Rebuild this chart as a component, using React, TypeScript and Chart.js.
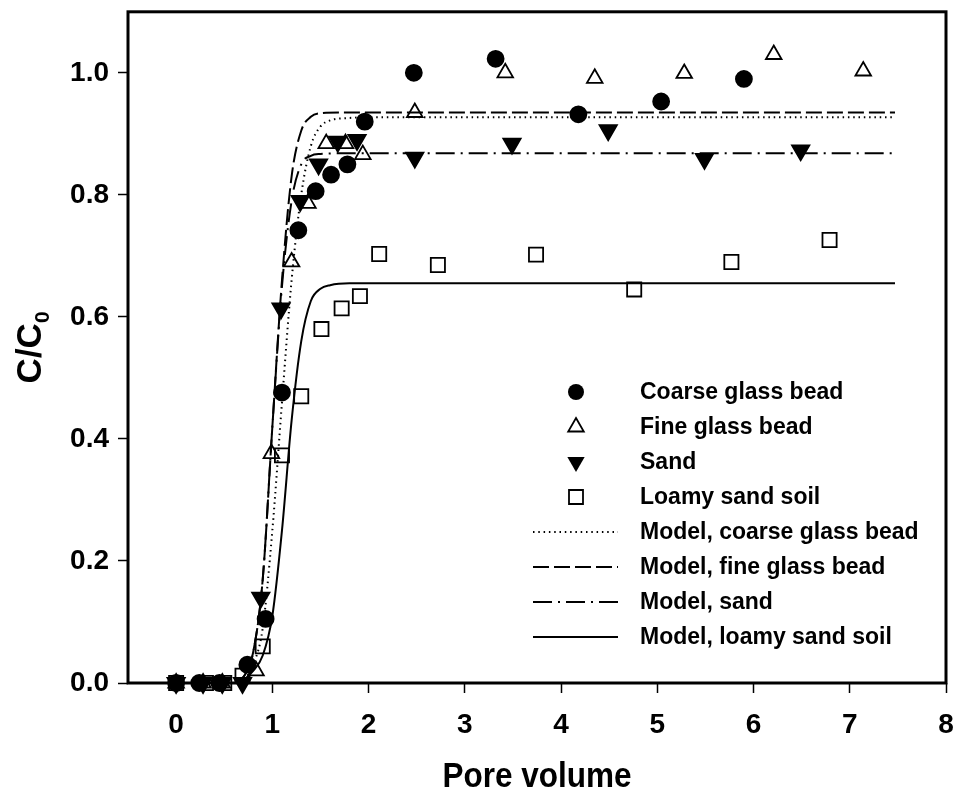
import React, { useEffect, useRef } from 'react';
import { Chart, registerables } from 'chart.js';

Chart.register(...registerables);

// Axis ticks
const X_TICKS = [0, 1, 2, 3, 4, 5, 6, 7, 8];
const Y_TICKS = [0, 0.2, 0.4, 0.6, 0.8, 1.0];

// Measured breakthrough data (pore volume, C/C0)
const COARSE_X = [0, 0.24, 0.45, 0.74, 0.93, 1.1, 1.27, 1.45, 1.61, 1.78, 1.96, 2.47, 3.32, 4.18, 5.04, 5.9];
const COARSE_Y = [0, 0, 0, 0.03, 0.105, 0.476, 0.742, 0.806, 0.833, 0.85, 0.92, 1.0, 1.023, 0.932, 0.953, 0.99];

const FINE_X = [0, 0.28, 0.48, 0.83, 0.99, 1.2, 1.37, 1.56, 1.76, 1.94, 2.48, 3.42, 4.35, 5.28, 6.21, 7.14];
const FINE_Y = [0, 0, 0, 0.02, 0.376, 0.69, 0.786, 0.884, 0.884, 0.866, 0.935, 1.0, 0.991, 0.999, 1.03, 1.003];

const SAND_X = [0, 0.28, 0.48, 0.69, 0.88, 1.09, 1.29, 1.48, 1.68, 1.88, 2.48, 3.49, 4.49, 5.49, 6.49];
const SAND_Y = [0, 0, 0, 0, 0.14, 0.614, 0.79, 0.85, 0.887, 0.89, 0.861, 0.884, 0.906, 0.859, 0.873];

const LOAMY_X = [0, 0.31, 0.5, 0.69, 0.9, 1.1, 1.3, 1.51, 1.72, 1.91, 2.11, 2.72, 3.74, 4.76, 5.77, 6.79];
const LOAMY_Y = [0, 0, 0, 0.012, 0.06, 0.373, 0.47, 0.58, 0.614, 0.634, 0.703, 0.685, 0.702, 0.645, 0.69, 0.726];

// Fitted model curves
const M_COARSE_X = [0, 0.6, 0.7, 0.8, 0.9, 1.0, 1.1, 1.2, 1.3, 1.4, 1.5, 1.6, 1.8, 2.0, 7.47];
const M_COARSE_Y = [0, 0, 0.005, 0.03, 0.09, 0.25, 0.46, 0.66, 0.8, 0.88, 0.912, 0.922, 0.926, 0.927, 0.927];

const M_FINE_X = [0, 0.6, 0.7, 0.8, 0.9, 1.0, 1.1, 1.2, 1.3, 1.4, 1.5, 1.7, 2.0, 7.47];
const M_FINE_Y = [0, 0, 0.01, 0.05, 0.17, 0.42, 0.66, 0.83, 0.905, 0.928, 0.934, 0.935, 0.935, 0.935];

const M_SAND_X = [0, 0.6, 0.7, 0.8, 0.9, 1.0, 1.1, 1.2, 1.3, 1.4, 1.5, 1.7, 2.0, 7.47];
const M_SAND_Y = [0, 0, 0.01, 0.05, 0.17, 0.42, 0.65, 0.79, 0.85, 0.864, 0.867, 0.868, 0.868, 0.868];

const M_LOAMY_X = [0, 0.6, 0.7, 0.8, 0.9, 1.0, 1.1, 1.2, 1.3, 1.4, 1.5, 1.6, 1.8, 2.0, 7.47];
const M_LOAMY_Y = [0, 0, 0.005, 0.02, 0.045, 0.11, 0.25, 0.43, 0.56, 0.626, 0.646, 0.652, 0.655, 0.655, 0.655];

const LEGEND_LABELS = [
  'Coarse glass bead',
  'Fine glass bead',
  'Sand',
  'Loamy sand soil',
  'Model, coarse glass bead',
  'Model, fine glass bead',
  'Model, sand',
  'Model, loamy sand soil',
];

const FONT = 'Arial, "Liberation Sans", Helvetica, sans-serif';

const pts = (xs: number[], ys: number[]) => xs.map((x, i) => ({ x, y: ys[i] }));

type Marker = 'circle' | 'triUp' | 'triDown' | 'square';

function drawMarker(ctx: CanvasRenderingContext2D, kind: Marker, x: number, y: number) {
  ctx.save();
  ctx.strokeStyle = '#000';
  ctx.fillStyle = '#000';
  ctx.lineWidth = 1.8;
  ctx.beginPath();
  if (kind === 'circle') {
    ctx.arc(x, y, 8, 0, Math.PI * 2);
    ctx.fill();
  } else if (kind === 'triUp') {
    const r = 9;
    ctx.moveTo(x, y - r);
    ctx.lineTo(x + r * 0.866, y + r / 2);
    ctx.lineTo(x - r * 0.866, y + r / 2);
    ctx.closePath();
    ctx.stroke();
  } else if (kind === 'triDown') {
    const r = 10;
    ctx.moveTo(x, y + r);
    ctx.lineTo(x + r * 0.866, y - r / 2);
    ctx.lineTo(x - r * 0.866, y - r / 2);
    ctx.closePath();
    ctx.fill();
  } else {
    ctx.rect(x - 7, y - 7, 14, 14);
    ctx.stroke();
  }
  ctx.restore();
}

const framePlugin = {
  id: 'frame',
  beforeDatasetsDraw(chart: any) {
    const { ctx, chartArea: a } = chart;
    ctx.save();
    ctx.lineWidth = 3;
    ctx.strokeStyle = '#000';
    ctx.strokeRect(a.left, a.top, a.right - a.left, a.bottom - a.top);
    ctx.restore();
  },
};

const decorPlugin = {
  id: 'decor',
  afterDraw(chart: any) {
    const { ctx, chartArea: a } = chart;
    ctx.save();
    ctx.fillStyle = '#000';

    // x axis title
    ctx.save();
    ctx.font = `bold 35px ${FONT}`;
    ctx.textAlign = 'center';
    ctx.textBaseline = 'alphabetic';
    ctx.translate((a.left + a.right) / 2, 787);
    ctx.scale(0.9, 1);
    ctx.fillText('Pore volume', 0, 0);
    ctx.restore();

    // y axis title with subscript
    ctx.save();
    ctx.translate(41, (a.top + a.bottom) / 2);
    ctx.rotate(-Math.PI / 2);
    ctx.font = `bold 35px ${FONT}`;
    const main = 'C/C';
    const wMain = ctx.measureText(main).width;
    ctx.font = `bold 21px ${FONT}`;
    const wSub = ctx.measureText('0').width;
    const start = -(wMain + wSub) / 2;
    ctx.textAlign = 'left';
    ctx.textBaseline = 'alphabetic';
    ctx.font = `bold 35px ${FONT}`;
    ctx.fillText(main, start, 0);
    ctx.font = `bold 21px ${FONT}`;
    ctx.fillText('0', start + wMain, 8);
    ctx.restore();

    // legend
    const symX = 576;
    const textX = 640;
    const row0 = 392;
    const step = 35;
    const markers: Marker[] = ['circle', 'triUp', 'triDown', 'square'];
    const dashes = [[1.5, 3.8], [16, 5], [19, 6, 2, 6], []];
    ctx.font = `bold 23px ${FONT}`;
    ctx.textAlign = 'left';
    ctx.textBaseline = 'middle';
    LEGEND_LABELS.forEach((label, i) => {
      const y = row0 + i * step;
      if (i < 4) {
        drawMarker(ctx, markers[i], symX, y);
      } else {
        ctx.save();
        ctx.strokeStyle = '#000';
        ctx.lineWidth = 2;
        ctx.setLineDash(dashes[i - 4]);
        ctx.beginPath();
        ctx.moveTo(533, y);
        ctx.lineTo(618, y);
        ctx.stroke();
        ctx.restore();
      }
      ctx.fillStyle = '#000';
      ctx.fillText(label, textX, y + 1);
    });
    ctx.restore();
  },
};

export default function App() {
  const ref = useRef<HTMLCanvasElement | null>(null);

  useEffect(() => {
    if (!ref.current) return;
    const markerBase = { showLine: false, clip: false as any, borderColor: '#000', borderWidth: 1.8 };
    const modelBase = {
      showLine: true,
      pointRadius: 0,
      pointHoverRadius: 0,
      borderColor: '#000',
      borderWidth: 2,
      fill: false,
      cubicInterpolationMode: 'monotone' as const,
      clip: false as any,
    };
    const chart = new Chart(ref.current, {
      type: 'scatter',
      data: {
        datasets: [
          { ...markerBase, label: LEGEND_LABELS[0], data: pts(COARSE_X, COARSE_Y), pointStyle: 'circle', pointRadius: 8, backgroundColor: '#000' },
          { ...markerBase, label: LEGEND_LABELS[1], data: pts(FINE_X, FINE_Y), pointStyle: 'triangle', pointRadius: 9, backgroundColor: 'rgba(0,0,0,0)' },
          { ...markerBase, label: LEGEND_LABELS[2], data: pts(SAND_X, SAND_Y), pointStyle: 'triangle', rotation: 180, pointRadius: 10, backgroundColor: '#000' },
          { ...markerBase, label: LEGEND_LABELS[3], data: pts(LOAMY_X, LOAMY_Y), pointStyle: 'rect', pointRadius: 10, backgroundColor: 'rgba(0,0,0,0)' },
          { ...modelBase, label: LEGEND_LABELS[4], data: pts(M_COARSE_X, M_COARSE_Y), borderDash: [1.5, 3.8] },
          { ...modelBase, label: LEGEND_LABELS[5], data: pts(M_FINE_X, M_FINE_Y), borderDash: [16, 5] },
          { ...modelBase, label: LEGEND_LABELS[6], data: pts(M_SAND_X, M_SAND_Y), borderDash: [19, 6, 2, 6] },
          { ...modelBase, label: LEGEND_LABELS[7], data: pts(M_LOAMY_X, M_LOAMY_Y) },
        ],
      },
      options: {
        animation: false,
        responsive: true,
        maintainAspectRatio: false,
        devicePixelRatio: 1,
        layout: { padding: { top: 10, right: 15, left: 0, bottom: 0 } },
        plugins: {
          legend: { display: false },
          tooltip: { enabled: false },
          title: { display: false },
        },
        scales: {
          x: {
            type: 'linear',
            min: -0.5,
            max: 8,
            border: { display: false },
            grid: {
              drawOnChartArea: false,
              drawTicks: true,
              tickLength: 10,
              tickWidth: 1.5,
              tickColor: '#000',
              color: '#000',
            },
            ticks: {
              color: '#000',
              font: { family: FONT, size: 28, weight: 'bold' },
              padding: 15,
              maxRotation: 0,
              callback: (v: any) => String(v),
            },
            afterBuildTicks: (scale: any) => {
              scale.ticks = X_TICKS.map((v) => ({ value: v }));
            },
            afterFit: (scale: any) => {
              scale.height = 111;
              scale.paddingLeft = 0;
              scale.paddingRight = 0;
            },
          },
          y: {
            type: 'linear',
            min: 0,
            max: 1.1,
            border: { display: false },
            grid: {
              drawOnChartArea: false,
              drawTicks: true,
              tickLength: 10,
              tickWidth: 1.5,
              tickColor: '#000',
              color: '#000',
            },
            ticks: {
              color: '#000',
              font: { family: FONT, size: 28, weight: 'bold' },
              padding: 9,
              callback: (v: any) => Number(v).toFixed(1),
            },
            afterBuildTicks: (scale: any) => {
              scale.ticks = Y_TICKS.map((v) => ({ value: v }));
            },
            afterFit: (scale: any) => {
              scale.width = 128;
              scale.paddingTop = 0;
              scale.paddingBottom = 0;
            },
          },
        },
      },
      plugins: [framePlugin, decorPlugin],
    });
    return () => chart.destroy();
  }, []);

  return (
    <div style={{ position: 'fixed', left: 0, top: 0, width: 961, height: 794, background: '#fff' }}>
      <canvas ref={ref} />
    </div>
  );
}
